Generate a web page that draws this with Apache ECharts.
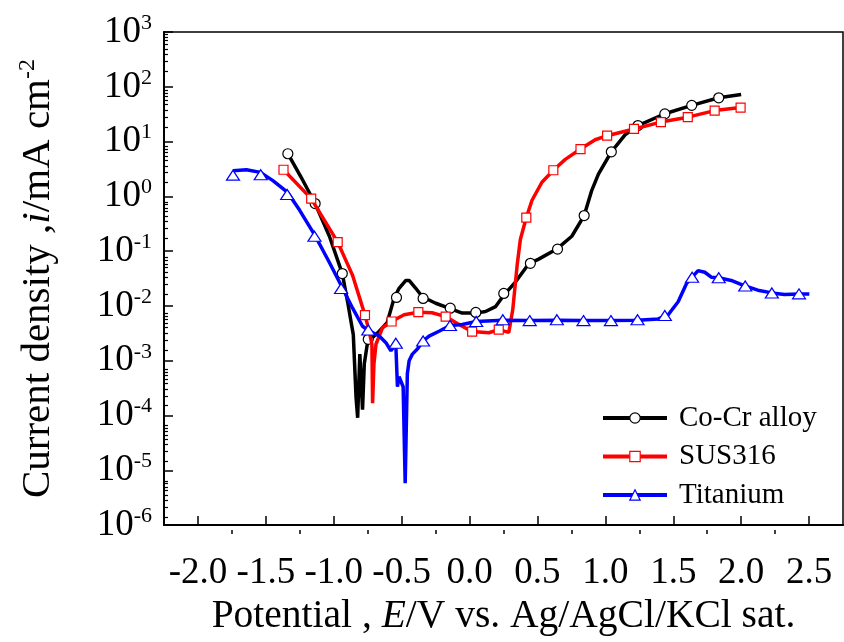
<!DOCTYPE html>
<html>
<head>
<meta charset="utf-8">
<script src="https://cdn.jsdelivr.net/npm/echarts@6/dist/echarts.min.js"></script>
<style>
  html, body { margin: 0; padding: 0; background: #fff; }
  #chart { width: 844px; height: 642px; }
</style>
</head>
<body>
<div id="chart"></div>
<script>
// Potentiodynamic polarization curves: potential (V vs. Ag/AgCl/KCl sat.) vs current density (mA cm^-2)

// Axis ticks
const xMajorTicks = [-2.0, -1.5, -1.0, -0.5, 0.0, 0.5, 1.0, 1.5, 2.0, 2.5];
const xMinorTicks = [-1.75, -1.25, -0.75, -0.25, 0.25, 0.75, 1.25, 1.75, 2.25];
const yDecadeExponents = [-6, -5, -4, -3, -2, -1, 0, 1, 2, 3];
const yMinorMultipliers = [2, 3, 4, 5, 6, 7, 8, 9];

// Co-Cr alloy trace
const coCrE = [-1.338, -1.240, -1.137, -1.032, -0.937, -0.898, -0.873, -0.856, -0.836, -0.824,
  -0.808, -0.788, -0.775, -0.751, -0.665, -0.607, -0.555, -0.519, -0.469, -0.445,
  -0.396, -0.348, -0.249, -0.152, -0.054, 0.044, 0.118, 0.191, 0.252, 0.338,
  0.435, 0.509, 0.646, 0.753, 0.844, 0.900, 0.949, 1.044, 1.145, 1.240,
  1.438, 1.636, 1.835, 2.000];
const coCrI = [6.0, 2.23, 0.74, 0.187, 0.039, 0.0119, 0.0052, 0.0030, 2.2e-4, 9.1e-5,
  1.32e-3, 1.28e-4, 8.8e-4, 2.17e-3, 3.46e-3, 4.96e-3, 0.0139, 0.021, 0.0292, 0.0292,
  0.021, 0.0147, 0.0112, 0.0091, 0.0074, 0.0074, 0.0079, 0.0097, 0.0157, 0.0273,
  0.0582, 0.0716, 0.111, 0.187, 0.446, 1.29, 2.55, 6.5, 13.3, 19.6,
  32.2, 45.8, 63, 72];
const coCrMarkE = [-1.338, -1.137, -0.937, -0.746, -0.538, -0.342, -0.142, 0.046, 0.252,
  0.448, 0.648, 0.844, 1.044, 1.240, 1.438, 1.636, 1.835];
const coCrMarkI = [6.0, 0.74, 0.039, 0.00246, 0.0143, 0.0137, 0.0091, 0.0076, 0.0169,
  0.060, 0.109, 0.446, 6.5, 19.6, 32, 45.8, 63];

// SUS316 trace
const susE = [-1.370, -1.166, -0.971, -0.861, -0.770, -0.739, -0.719, -0.714, -0.704, -0.689,
  -0.641, -0.574, -0.482, -0.377, -0.276, -0.176, -0.078, 0.019, 0.142, 0.215,
  0.289, 0.318, 0.350, 0.374, 0.418, 0.460, 0.533, 0.617, 0.705, 0.817,
  0.925, 1.013, 1.211, 1.409, 1.607, 1.805, 1.996];
const susI = [3.06, 0.91, 0.146, 0.0359, 0.0068, 0.00346, 0.0020, 1.68e-4, 8.8e-4, 0.0020,
  0.0040, 0.0052, 0.0069, 0.0077, 0.0075, 0.0064, 0.0046, 0.0034, 0.00324, 0.0037,
  0.0033, 0.0085, 0.054, 0.163, 0.41, 0.85, 1.81, 3.0, 4.74, 7.3,
  10.8, 12.8, 17.0, 22.7, 27.9, 36.8, 41.7];
const susMarkE = [-1.370, -1.166, -0.971, -0.770, -0.574, -0.377, -0.176, 0.019, 0.215,
  0.418, 0.617, 0.817, 1.013, 1.211, 1.409, 1.607, 1.805, 1.996];
const susMarkI = [3.06, 0.91, 0.146, 0.0068, 0.0052, 0.0077, 0.0064, 0.0034, 0.0037,
  0.41, 3.0, 7.3, 12.8, 17.0, 22.7, 27.9, 36.8, 41.7];

// Titanium trace
const tiE = [-1.742, -1.643, -1.540, -1.448, -1.342, -1.252, -1.142, -1.032, -0.946, -0.861,
  -0.788, -0.746, -0.665, -0.616, -0.579, -0.543, -0.531, -0.519, -0.489, -0.474,
  -0.458, -0.445, -0.421, -0.384, -0.342, -0.298, -0.225, -0.144, -0.054, 0.049,
  0.245, 0.443, 0.643, 0.839, 1.041, 1.237, 1.389, 1.463, 1.536, 1.597,
  1.639, 1.683, 1.732, 1.780, 1.835, 1.927, 2.030, 2.123, 2.226, 2.319,
  2.426, 2.502];
const tiI = [2.94, 3.06, 2.74, 1.94, 1.20, 0.563, 0.201, 0.0622, 0.0238, 0.0091,
  0.00426, 0.00361, 0.00282, 0.00214, 0.00152, 0.0020, 3.35e-4, 5.1e-4, 3.35e-4, 5.8e-6,
  5.8e-4, 1.0e-3, 1.32e-3, 1.63e-3, 2.29e-3, 2.82e-3, 3.46e-3, 4.38e-3, 4.57e-3, 5.2e-3,
  5.5e-3, 5.4e-3, 5.5e-3, 5.4e-3, 5.4e-3, 5.5e-3, 5.8e-3, 6.9e-3, 0.0119, 0.0255,
  0.0335, 0.0442, 0.0412, 0.0335, 0.0327, 0.0292, 0.0231, 0.0194, 0.0173, 0.0162,
  0.0166, 0.0166];
const tiMarkE = [-1.742, -1.538, -1.343, -1.142, -0.946, -0.746, -0.543, -0.342, -0.144,
  0.049, 0.245, 0.443, 0.643, 0.839, 1.041, 1.237, 1.438, 1.639, 1.835, 2.030, 2.226, 2.426];
const tiMarkI = [2.44, 2.49, 1.08, 0.187, 0.0208, 0.00364, 0.00209, 0.00229, 0.00438,
  0.0052, 0.0056, 0.0054, 0.0056, 0.0054, 0.0054, 0.0056, 0.0067, 0.0335, 0.0327, 0.0231, 0.0173, 0.0166];

const FONT = '"Liberation Serif", "Times New Roman", serif';

const pairs = (xs, ys) => xs.map((x, k) => [x, ys[k]]);

// minor tick positions on the log axis, expressed as exponents for the overlay axis
const yMinorTickExps = [];
yDecadeExponents.slice(0, -1).forEach(n => {
  yMinorMultipliers.forEach(m => yMinorTickExps.push(n + Math.log10(m)));
});

const materials = [
  { name: 'Co-Cr alloy', color: '#000000', symbol: 'circle', size: 10,
    line: pairs(coCrE, coCrI), marks: pairs(coCrMarkE, coCrMarkI) },
  { name: 'SUS316', color: '#ff0000', symbol: 'rect', size: 9,
    line: pairs(susE, susI), marks: pairs(susMarkE, susMarkI) },
  { name: 'Titanium', color: '#0000ff', symbol: 'triangle', size: [13, 10],
    line: pairs(tiE, tiI), marks: pairs(tiMarkE, tiMarkI) }
];

const series = [];
materials.forEach((m, k) => {
  series.push({
    name: m.name,
    type: 'line',
    xAxisIndex: 0,
    yAxisIndex: 0,
    data: m.line,
    symbol: m.symbol,
    symbolSize: m.size,
    showSymbol: false,
    lineStyle: { color: m.color, width: 3.5 },
    itemStyle: { color: '#ffffff', borderColor: m.color, borderWidth: 1.2 },
    z: 2 + k * 2,
    silent: true,
    animation: false
  });
  series.push({
    name: m.name,
    type: 'scatter',
    xAxisIndex: 0,
    yAxisIndex: 0,
    data: m.marks,
    symbol: m.symbol,
    symbolSize: m.size,
    itemStyle: { color: '#ffffff', borderColor: m.color, borderWidth: 1.2, opacity: 1 },
    z: 3 + k * 2,
    silent: true,
    animation: false
  });
});

const chart = echarts.init(document.getElementById('chart'), null, { renderer: 'canvas' });

const plotBox = { left: 164, right: 1, top: 32, bottom: 108 };

chart.setOption({
  animation: false,
  backgroundColor: '#ffffff',
  grid: [
    Object.assign({ show: true, borderColor: '#000', borderWidth: 1.5, backgroundColor: 'transparent' }, plotBox),
    // second grid on the same box carries the minor tick marks
    Object.assign({ show: false }, plotBox)
  ],
  legend: {
    orient: 'vertical',
    left: 601,
    top: 401,
    padding: 0,
    itemWidth: 64,
    itemHeight: 13,
    itemGap: 4.5,
    textStyle: { fontFamily: FONT, fontSize: 29, color: '#000', lineHeight: 34, padding: [0, 0, 0, 7] },
    data: materials.map(m => ({
      name: m.name,
      itemStyle: { color: '#ffffff', borderColor: m.color, borderWidth: 1.2 },
      lineStyle: { color: m.color, width: 4 }
    }))
  },
  xAxis: [
    {
      type: 'value',
      gridIndex: 0,
      min: -2.25,
      max: 2.75,
      position: 'bottom',
      name: '{n|Potential , }{it|E}{n|/V vs. Ag/AgCl/KCl sat.}',
      nameLocation: 'middle',
      nameGap: 56,
      nameTextStyle: {
        rich: {
          n: { fontFamily: FONT, fontSize: 39.5, color: '#000' },
          it: { fontFamily: FONT, fontSize: 39.5, color: '#000', fontStyle: 'italic' }
        }
      },
      axisLine: { show: true, onZero: false, lineStyle: { color: '#000', width: 2 } },
      axisTick: { show: true, inside: true, length: 9, customValues: xMajorTicks,
        lineStyle: { color: '#000', width: 1.5 } },
      axisLabel: { show: true, customValues: xMajorTicks, margin: 30,
        fontFamily: FONT, fontSize: 37, color: '#000',
        formatter: v => v.toFixed(1) },
      splitLine: { show: false }
    },
    {
      type: 'value',
      gridIndex: 1,
      min: -2.25,
      max: 2.75,
      position: 'bottom',
      axisLine: { show: false, onZero: false },
      axisTick: { show: true, inside: true, length: 4, customValues: xMinorTicks,
        lineStyle: { color: '#000', width: 1.5 } },
      axisLabel: { show: false },
      splitLine: { show: false }
    }
  ],
  yAxis: [
    {
      type: 'log',
      gridIndex: 0,
      logBase: 10,
      min: 1e-6,
      max: 1e3,
      position: 'left',
      name: '{n|Current density ,}{it|i}{n|/mA cm}{s|-2}',
      nameLocation: 'middle',
      nameGap: 104,
      nameTextStyle: {
        rich: {
          n: { fontFamily: FONT, fontSize: 41, color: '#000', lineHeight: 44 },
          it: { fontFamily: FONT, fontSize: 41, color: '#000', fontStyle: 'italic', lineHeight: 44 },
          s: { fontFamily: FONT, fontSize: 24, color: '#000', verticalAlign: 'top', lineHeight: 24 }
        }
      },
      axisLine: { show: true, onZero: false, lineStyle: { color: '#000', width: 2 } },
      axisTick: { show: true, inside: true, length: 9, lineStyle: { color: '#000', width: 1.5 } },
      minorTick: { show: false },
      axisLabel: {
        show: true, margin: 12,
        formatter: v => '{b|10}{s|' + Math.round(Math.log10(v)) + '}',
        rich: {
          b: { fontFamily: FONT, fontSize: 37, color: '#000', lineHeight: 40 },
          s: { fontFamily: FONT, fontSize: 22, color: '#000', verticalAlign: 'top', lineHeight: 22 }
        }
      },
      splitLine: { show: false }
    },
    {
      type: 'value',
      gridIndex: 1,
      min: -6,
      max: 3,
      position: 'left',
      axisLine: { show: false, onZero: false },
      axisTick: { show: true, inside: true, length: 4, customValues: yMinorTickExps,
        lineStyle: { color: '#000', width: 1.2 } },
      axisLabel: { show: false },
      splitLine: { show: false }
    }
  ],
  series: series
});
</script>
</body>
</html>
